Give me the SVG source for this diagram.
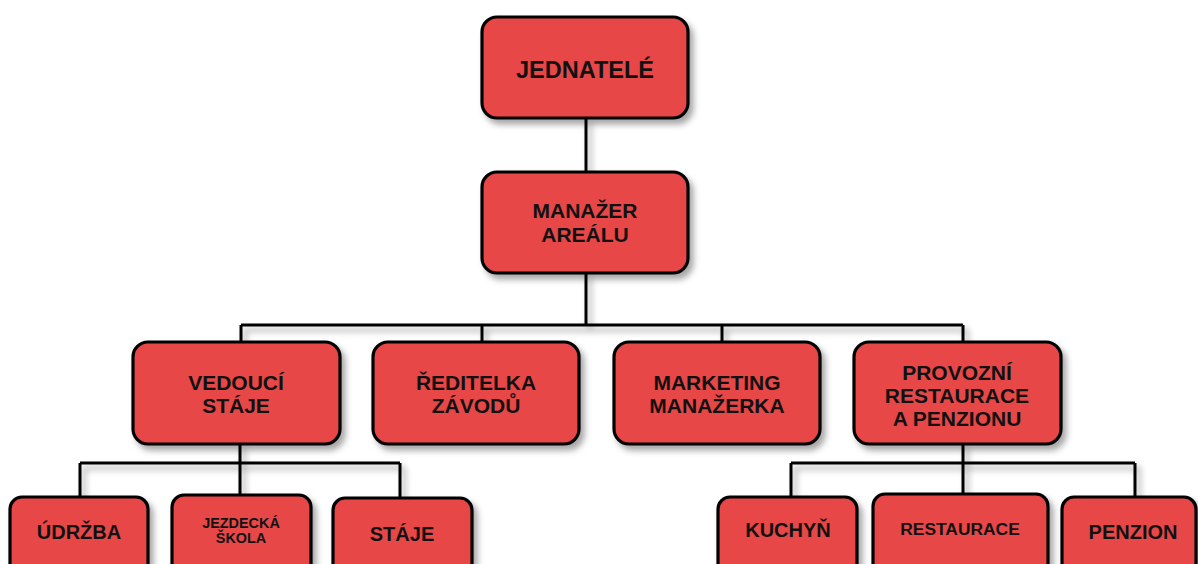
<svg xmlns="http://www.w3.org/2000/svg" width="1198" height="564" viewBox="0 0 1198 564">
<defs>
<filter id="sh" x="-10%" y="-10%" width="130%" height="140%">
<feDropShadow dx="4" dy="5" stdDeviation="3" flood-color="#000" flood-opacity="0.35"/>
</filter>
<style>
.b{fill:#E84747;stroke:#000;stroke-width:3.2;filter:url(#sh)}
.t{font-family:"Liberation Sans",Arial,sans-serif;font-weight:bold;fill:#111;text-anchor:middle}
.c{fill:none;stroke:#000;stroke-width:3;filter:url(#sh)}
</style>
</defs>
<rect width="1198" height="564" fill="#fff"/>
<g id="connectors">
<path class="c" d="M586 118V172M586 273V325M241 325H963M241 325V342M482 325V342M722 325V342M963 325V342"/>
<path class="c" d="M240 444V463M80 463H400M80 463V497M240 463V495M400 463V498"/>
<path class="c" d="M963 444V463M791 463H1135M791 463V497M963 463V494M1135 463V497"/>
</g>
<g id="n-jednatele"><rect class="b" x="482" y="17" width="206" height="101" rx="15"/><text class="t" x="585" y="78" font-size="23.5">JEDNATELÉ</text></g>
<g id="n-manazer"><rect class="b" x="482" y="172" width="206" height="101" rx="15"/><text class="t" x="585" y="218" font-size="21">MANAŽER</text><text class="t" x="585" y="242" font-size="21">AREÁLU</text></g>
<g id="n-vedouci"><rect class="b" x="133" y="342" width="207" height="102" rx="15"/><text class="t" x="236" y="390" font-size="21">VEDOUCÍ</text><text class="t" x="236" y="413" font-size="21">STÁJE</text></g>
<g id="n-reditelka"><rect class="b" x="373" y="342" width="206" height="102" rx="15"/><text class="t" x="476" y="390" font-size="21">ŘEDITELKA</text><text class="t" x="476" y="413" font-size="21">ZÁVODŮ</text></g>
<g id="n-marketing"><rect class="b" x="614" y="342" width="206" height="102" rx="15"/><text class="t" x="717" y="390" font-size="21">MARKETING</text><text class="t" x="717" y="413" font-size="21">MANAŽERKA</text></g>
<g id="n-provozni"><rect class="b" x="854" y="342" width="207" height="102" rx="15"/><text class="t" x="957" y="380" font-size="21">PROVOZNÍ</text><text class="t" x="957" y="403" font-size="21">RESTAURACE</text><text class="t" x="957" y="426" font-size="21">A PENZIONU</text></g>
<g id="n-udrzba"><rect class="b" x="10" y="497" width="138" height="90" rx="12"/><text class="t" x="79" y="539" font-size="20">ÚDRŽBA</text></g>
<g id="n-jezdecka"><rect class="b" x="172" y="495" width="139" height="90" rx="12"/><text class="t" x="241" y="528" font-size="14.4">JEZDECKÁ</text><text class="t" x="241" y="543" font-size="14.4">ŠKOLA</text></g>
<g id="n-staje"><rect class="b" x="333" y="498" width="139" height="90" rx="12"/><text class="t" x="402" y="541" font-size="20">STÁJE</text></g>
<g id="n-kuchyn"><rect class="b" x="718" y="497" width="139" height="90" rx="12"/><text class="t" x="788" y="537" font-size="20">KUCHYŇ</text></g>
<g id="n-restaurace"><rect class="b" x="873" y="494" width="175" height="90" rx="12"/><text class="t" x="960" y="535" font-size="17.4">RESTAURACE</text></g>
<g id="n-penzion"><rect class="b" x="1062" y="497" width="134" height="90" rx="12"/><text class="t" x="1133" y="539" font-size="20">PENZION</text></g>
</svg>
